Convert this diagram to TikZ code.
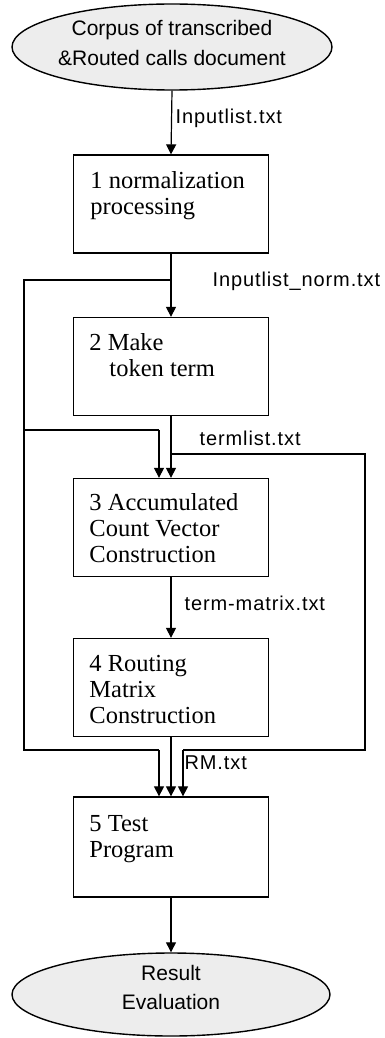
\documentclass[tikz,border=0pt]{standalone}
\usepackage{fontspec}
\setmainfont{Liberation Serif}
\newfontfamily\lblfont[LetterSpace=4.5]{Liberation Sans}
\newfontfamily\ovalfont{Liberation Sans}
\usetikzlibrary{shapes.geometric,arrows.meta}
\begin{document}
\begin{tikzpicture}[x=1pt,y=-1pt,
  line width=1.2pt,
  arr/.style={-{Triangle[width=10pt,length=10pt]}},
  stepbox/.style={draw,line width=1.3pt,minimum width=195pt,minimum height=98pt,inner sep=0pt},
  boxtext/.style={anchor=north west,inner sep=0pt,align=left,font=\fontsize{24.5}{26}\selectfont},
  lbl/.style={anchor=west,inner sep=0pt,font=\lblfont\fontsize{20}{22}\selectfont},
  oval/.style={draw,ellipse,line width=1.4pt,fill=gray!14,inner sep=0pt},
  ovaltext/.style={inner sep=0pt,align=center,font=\ovalfont\fontsize{21}{30}\selectfont}]
\useasboundingbox (0,0) rectangle (384,1038);
% terminals
\node[oval,minimum width=320pt,minimum height=86pt] (top) at (172,47) {};
\node[ovaltext] (toptxt) at (172,43) {Corpus of transcribed\\\&Routed calls document};
\node[oval,minimum width=318pt,minimum height=83pt] (res) at (171,994.5) {};
\node[ovaltext,font=\ovalfont\fontsize{21}{29}\selectfont] (restxt) at (171,987) {Result\\Evaluation};
% boxes
\node[stepbox] (b1) at (171,204) {};
\node[stepbox] (b2) at (171,366.5) {};
\node[stepbox] (b3) at (171,527.5) {};
\node[stepbox] (b4) at (171,687.5) {};
\node[stepbox,minimum height=100pt] (b5) at (171,847) {};
\node[boxtext] (t1) at ([shift={(17pt,-15pt)}]b1.north west) {\strut 1 normalization\\processing};
\node[boxtext] (t2) at ([shift={(16pt,-15pt)}]b2.north west) {\strut 2 Make\\\hspace*{20pt}token term};
\node[boxtext] (t3) at ([shift={(16pt,-14pt)}]b3.north west) {\strut 3 Accumulated\\Count Vector\\Construction};
\node[boxtext] (t4) at ([shift={(16pt,-15pt)}]b4.north west) {\strut 4 Routing\\Matrix\\Construction};
\node[boxtext] (t5) at ([shift={(16pt,-16pt)}]b5.north west) {\strut 5 Test\\Program};
% labels
\node[lbl] (l1) at (175,118) {Inputlist.txt};
\node[lbl] (l2) at (212,281) {Inputlist\_norm.txt};
\node[lbl] (l3) at (199,438) {termlist.txt};
\node[lbl] (l4) at (184,603) {term-matrix.txt};
\node[lbl] (l5) at (184,763) {RM.txt};
% junction coordinates
\coordinate (j1) at (171,280);
\coordinate (la) at (24,280);
\coordinate (lb) at (24,430);
\coordinate (lc) at (159,430);
\coordinate (ld) at (24,750);
\coordinate (le) at (159,750);
\coordinate (r1) at (171,454);
\coordinate (ra) at (365,454);
\coordinate (rb) at (365,750);
\coordinate (rc) at (183,750);
% connectors
\draw[arr] (top.south) -- (b1.north);
\draw[arr] (b1.south) -- (b2.north);
\draw (j1) -- (la) -- (ld) -- (le);
\draw[arr] (le) -- (le |- b5.north);
\draw (lb) -- (lc);
\draw[arr] (lc) -- (lc |- b3.north);
\draw[arr] (b2.south) -- (b3.north);
\draw (r1) -- (ra) -- (rb) -- (rc);
\draw[arr] (rc) -- (rc |- b5.north);
\draw[arr] (b3.south) -- (b4.north);
\draw[arr] (b4.south) -- (b5.north);
\draw[arr] (b5.south) -- (res.north);
\end{tikzpicture}
\end{document}
